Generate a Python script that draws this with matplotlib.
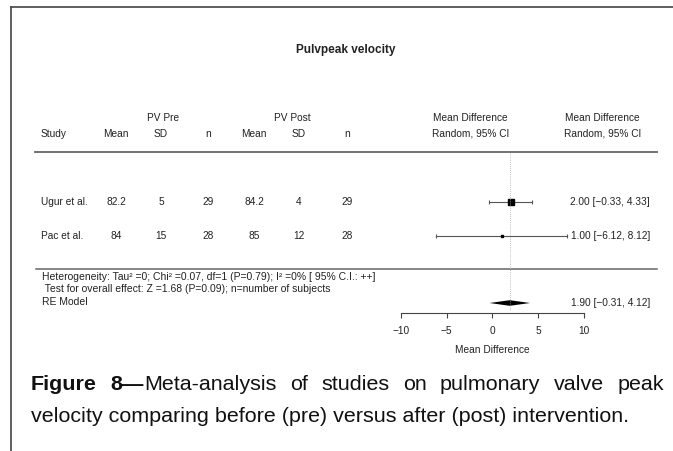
import matplotlib
matplotlib.use("Agg")
import matplotlib.pyplot as plt

plt.rcParams["font.family"] = ["Liberation Sans", "DejaVu Sans"]

# data
studies = ["Ugur et al.", "Pac et al."]
pre_mean = [82.2, 84]
pre_sd = [5, 15]
pre_n = [29, 28]
post_mean = [84.2, 85]
post_sd = [4, 12]
post_n = [29, 28]
md = [2.00, 1.00]
ci_lo = [-0.33, -6.12]
ci_hi = [4.33, 8.12]
weights = [90.4, 9.6]
pooled = (1.90, -0.31, 4.12)
xticks = [-10, -5, 0, 5, 10]

W, H = 673, 451
TXT = "#222222"
LINE = "#666666"

fig = plt.figure(figsize=(W / 100, H / 100), dpi=100)
fig.patch.set_facecolor("white")

# pixel layer for table text, rules and caption
ax = fig.add_axes([0, 0, 1, 1])
ax.set_xlim(0, W); ax.set_ylim(H, 0); ax.axis("off")

# forest layer: x in mean difference units (-10 -> 400.7 px, 10 -> 584 px)
px_lo, px_hi = 400.7, 584.0
scale = (px_hi - px_lo) / 20.0
zero = px_lo + 10 * scale
fx = fig.add_axes([0, 0, 1, 1])
fx.set_xlim(-zero / scale, (W - zero) / scale); fx.set_ylim(H, 0)
fx.axis("off"); fx.patch.set_alpha(0)

# frame of the page
ax.plot([10.5, 10.5], [H, 6.5], color="#444444", lw=1.2)
ax.plot([10.5, W], [6.5, 6.5], color="#444444", lw=1.2)

fs = 7.3
fs_small = 7.5
ax.text(345.5, 50, "Pulvpeak velocity", ha="center", va="center", fontsize=8.5,
        fontweight="bold", color=TXT)

# header
ax.text(163, 118, "PV Pre", ha="center", va="center", fontsize=fs, color=TXT)
ax.text(292, 118, "PV Post", ha="center", va="center", fontsize=fs, color=TXT)
ax.text(41, 134, "Study", ha="left", va="center", fontsize=fs, color=TXT)
cols = [116, 161, 208.5, 254, 299, 347]
for cx, lab in zip(cols, ["Mean", "SD", "n", "Mean", "SD", "n"]):
    ax.text(cx, 134, lab, ha="center", va="center", fontsize=fs, color=TXT)
for cx in (470.5, 602.5):
    ax.text(cx, 118, "Mean Difference", ha="center", va="center", fontsize=fs, color=TXT)
    ax.text(cx, 134, "Random, 95% CI", ha="center", va="center", fontsize=fs, color=TXT)
ax.plot([35, 657], [152, 152], color=LINE, lw=1.3)

# study rows
row_y = [202, 236]
wmin, wmax = min(weights), max(weights)
for i, y in enumerate(row_y):
    ax.text(41, y, studies[i], ha="left", va="center", fontsize=fs, color=TXT)
    vals = [pre_mean[i], pre_sd[i], pre_n[i], post_mean[i], post_sd[i], post_n[i]]
    for cx, v in zip(cols, vals):
        ax.text(cx, y, f"{v:g}", ha="center", va="center", fontsize=fs, color=TXT)
    fx.plot([ci_lo[i], ci_hi[i]], [y, y], color="#555555", lw=0.8)
    fx.vlines([ci_lo[i], ci_hi[i]], y - 1.8, y + 1.8, color="#555555", lw=0.8)
    ms = 1.5 + 3.4 * (weights[i] - wmin) / (wmax - wmin)
    fx.plot(md[i], y, marker="s", ms=ms, color="black", mec="black")
    lab = f"{md[i]:.2f} [{ci_lo[i]:.2f}, {ci_hi[i]:.2f}]".replace("-", "\u2212")
    ax.text(650, y, lab, ha="right", va="center", fontsize=fs, color=TXT)

ax.plot([36, 657], [269, 269], color=LINE, lw=1.1)

ax.text(42, 277, "Heterogeneity: Tau\u00b2 =0; Chi\u00b2 =0.07, df=1 (P=0.79); I\u00b2 =0% [ 95% C.I.: ++]",
        ha="left", va="center", fontsize=fs_small, color=TXT)
ax.text(42, 289, " Test for overall effect: Z =1.68 (P=0.09); n=number of subjects",
        ha="left", va="center", fontsize=fs_small, color=TXT)
ax.text(42, 302, "RE Model", ha="left", va="center", fontsize=fs_small, color=TXT)

# pooled diamond
est, lo, hi = pooled
dy = 303
fx.fill([lo, est, hi, est], [dy, dy - 2.8, dy, dy + 2.8], color="black", lw=0)
lab = f"{est:.2f} [{lo:.2f}, {hi:.2f}]".replace("-", "\u2212")
ax.text(650, dy, lab, ha="right", va="center", fontsize=fs, color=TXT)

# reference line at the pooled estimate
fx.plot([est, est], [153, 310], color="#aaaaaa", lw=0.6, ls=(0, (1, 1.5)))

# x axis
fx.plot([xticks[0], xticks[-1]], [313, 313], color="#444444", lw=0.8)
fx.vlines(xticks, 313, 318, color="#444444", lw=0.8)
for t in xticks:
    fx.text(t, 331, f"{t}".replace("-", "\u2212"), ha="center", va="center", fontsize=fs, color=TXT)
fx.text(0, 350, "Mean Difference", ha="center", va="center", fontsize=fs, color=TXT)

# caption, first line justified
r = fig.canvas.get_renderer()
line2 = "velocity comparing before (pre) versus after (post) intervention."
probe = ax.text(0, 0, line2, fontsize=10)
w10 = probe.get_window_extent(r).width
probe.remove()
cfs = 10 * (632 - 31) / w10

x0, x1, y1, y2 = 31, 664, 385, 417
words = [[("Figure", "bold")], [("8\u2014", "bold"), ("Meta-analysis", "normal")],
         [("of", "normal")], [("studies", "normal")], [("on", "normal")],
         [("pulmonary", "normal")], [("valve", "normal")], [("peak", "normal")]]
word_w = []
for wd in words:
    tot = 0
    for s, wt in wd:
        t = ax.text(0, 0, s, fontsize=cfs, fontweight=wt)
        tot += t.get_window_extent(r).width
        t.remove()
    word_w.append(tot)
gap = (x1 - x0 - sum(word_w)) / (len(words) - 1)
x = x0
for wd, ww in zip(words, word_w):
    xx = x
    for s, wt in wd:
        t = ax.text(xx, y1, s, ha="left", va="center", fontsize=cfs, fontweight=wt, color="#111111")
        xx += t.get_window_extent(r).width
    x += ww + gap
ax.text(x0, y2, line2, ha="left", va="center", fontsize=cfs, color="#111111")

fig.savefig("out.png", dpi=100, facecolor="white")
